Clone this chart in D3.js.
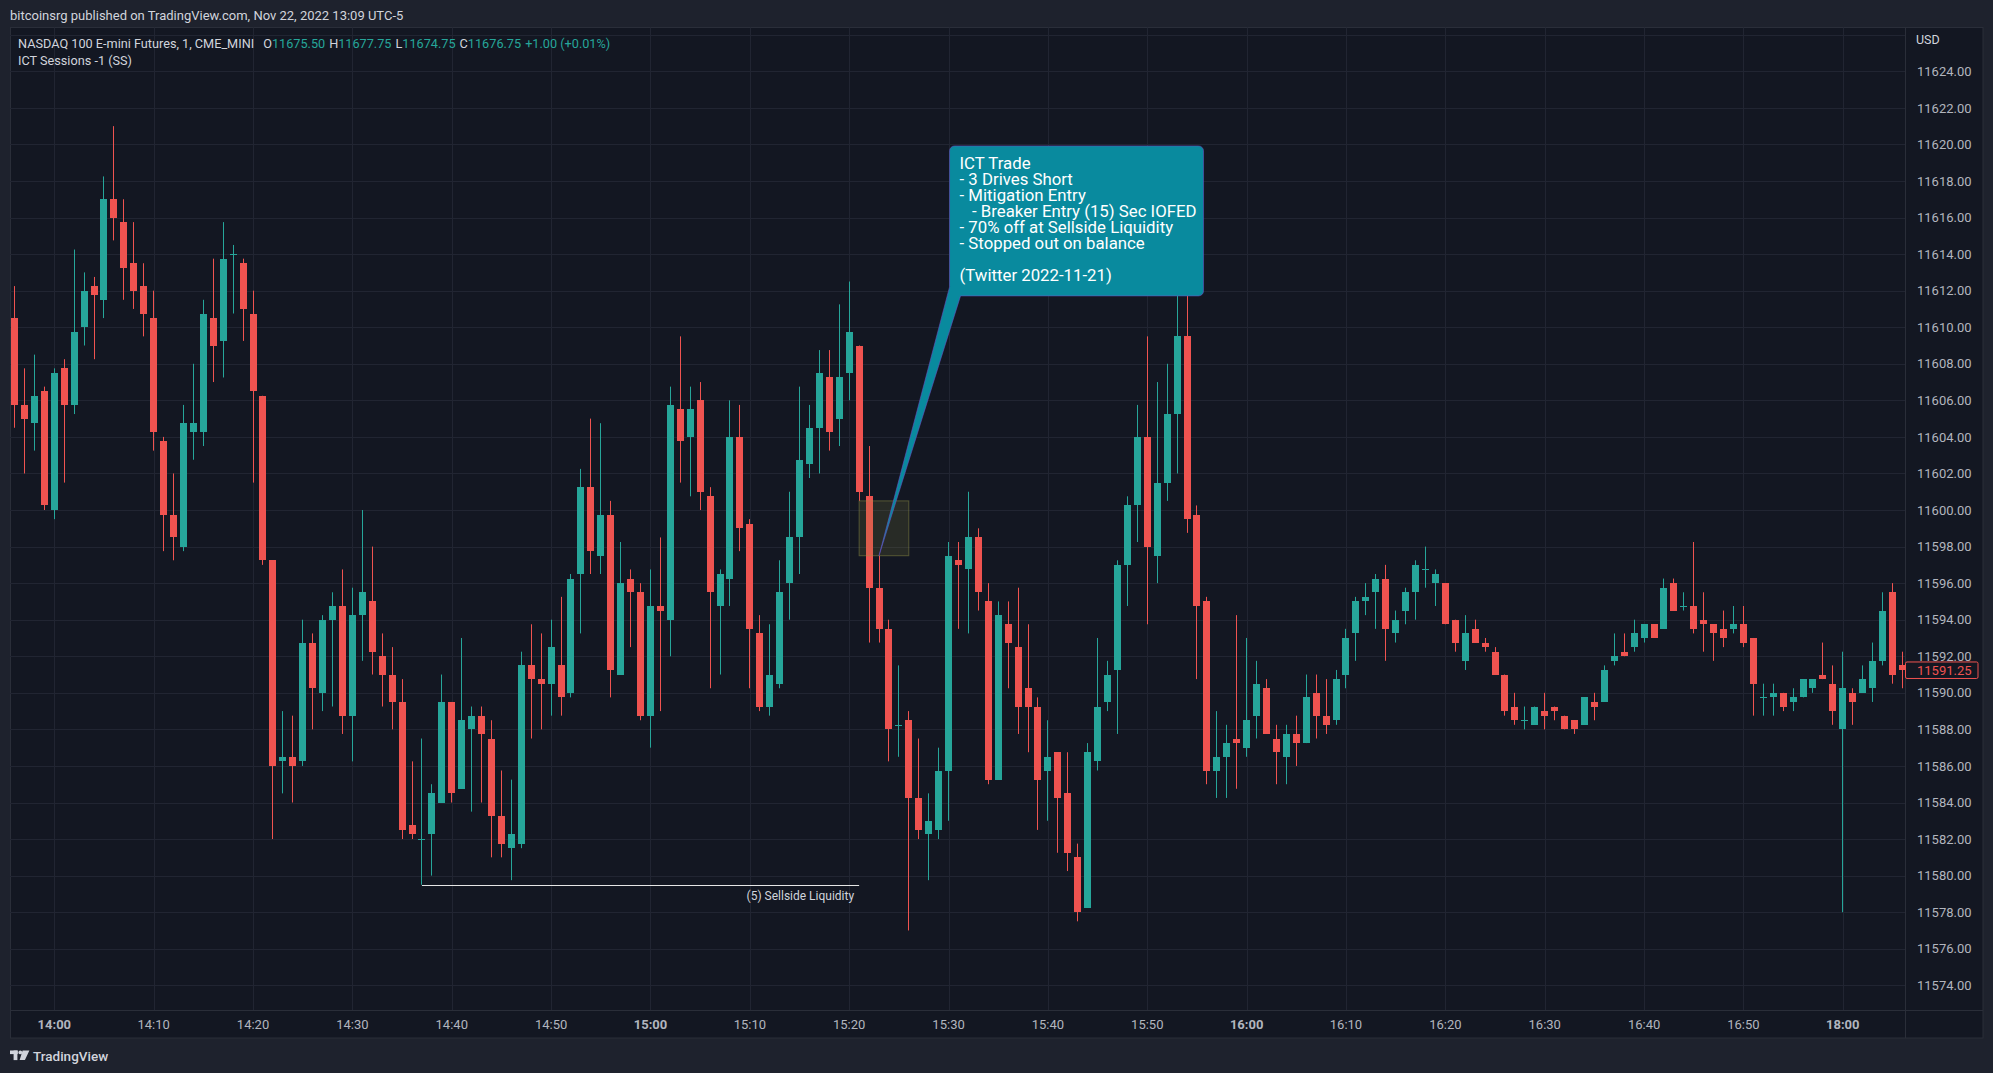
<!DOCTYPE html>
<html>
<head>
<meta charset="utf-8">
<script src="https://cdn.jsdelivr.net/npm/d3@7"></script>
<style>
  html, body { margin: 0; padding: 0; background: #1e222d; }
  svg { display: block; }
  text { font-family: Roboto, "Noto Sans", sans-serif; }
</style>
</head>
<body>
<script>
// 1 minute bars, CME session pauses 17:00 - 18:00
const sessionStarts = ["13:56", "18:00"];
const sessionBars = [184, 7];

const opens = [
  11610.5, 11605.75, 11604.75, 11606.5, 11600, 11607.75, 11605.75, 11610, 11612.25, 11611.5,
  11617, 11615.75, 11613.5, 11612.25, 11610.5, 11603.75, 11599.75, 11598, 11604.25, 11604.25,
  11610.5, 11609.25, 11614, 11613.5, 11610.75, 11606.25, 11597.25, 11586.25, 11586.5, 11586.25,
  11592.75, 11590, 11594, 11594.75, 11588.75, 11594.25, 11595, 11592, 11591, 11589.5,
  11582.75, 11582, 11582.25, 11584, 11589.5, 11584.75, 11588, 11588.75, 11587.5, 11583.25,
  11581.5, 11581.75, 11591.5, 11590.75, 11590.5, 11591.5, 11590, 11596.5, 11601.25, 11597.5,
  11599.75, 11591, 11596.25, 11595.5, 11588.75, 11594.75, 11594, 11605.5, 11604, 11606,
  11600.75, 11594.75, 11596.25, 11604, 11599.25, 11593.25, 11589.25, 11590.5, 11596, 11598.5,
  11602.5, 11604.5, 11607.25, 11605, 11607.5, 11609, 11600.75, 11595.75, 11593.5, 11588.25,
  11588.5, 11584.25, 11582.25, 11582.5, 11585.75, 11597.25, 11596.75, 11598.5, 11595, 11585.25,
  11593.75, 11592.5, 11590.25, 11589.25, 11585.75, 11586.75, 11584.5, 11581, 11578.25, 11586.25,
  11589.5, 11591.25, 11597, 11600.25, 11604, 11597.5, 11601.5, 11605.25, 11609.5, 11599.75,
  11595, 11585.75, 11586.5, 11587.5, 11587, 11588.75, 11590.25, 11587.5, 11586.5, 11587.75,
  11587.25, 11590, 11588.75, 11588.5, 11591, 11593.25, 11595, 11595.5, 11596.25, 11593.25,
  11594.5, 11595.5, 11596.75, 11596, 11596, 11594, 11591.75, 11593.5, 11592.75, 11592.25,
  11591, 11589.25, 11588.5, 11588.25, 11589, 11589.25, 11588.75, 11588.5, 11588.25, 11589.5,
  11589.5, 11591.75, 11592.25, 11592.5, 11593, 11593.75, 11593.5, 11596, 11594.75, 11594.75,
  11594, 11593.75, 11593.5, 11593.5, 11593.75, 11593, 11589.75, 11589.75, 11590, 11589.5,
  11589.75, 11590.25, 11591, 11590.5, 11588, 11590, 11590, 11590.25, 11591.75, 11595.5,
  11591.5
];
const highs = [
  11612.25, 11607.75, 11608.5, 11606.75, 11607.75, 11608.25, 11614.25, 11613, 11612.75, 11618.25,
  11621, 11617, 11615.75, 11613.5, 11612, 11604, 11602, 11605.75, 11608, 11611.5,
  11613.75, 11615.75, 11614.5, 11613.75, 11612, 11606.25, 11597.25, 11589, 11588.75, 11594,
  11593.25, 11594.25, 11595.5, 11596.75, 11595.75, 11600, 11598, 11593.25, 11592.5, 11590.75,
  11586.25, 11587.5, 11585, 11591, 11589.5, 11593, 11589.25, 11589.25, 11588.5, 11585.75,
  11585.25, 11592.25, 11593.75, 11593.25, 11594, 11595.25, 11596.5, 11602.25, 11605, 11604.75,
  11600.5, 11598.25, 11596.75, 11596, 11596.75, 11598.5, 11606.75, 11609.5, 11606.75, 11607,
  11601.25, 11596.75, 11606, 11605.75, 11599.5, 11594.25, 11593.75, 11597.25, 11601, 11606.75,
  11605.75, 11608.75, 11608.75, 11611.25, 11612.5, 11609, 11603.5, 11597.5, 11594, 11591.5,
  11589, 11587.5, 11584.5, 11587, 11598.25, 11598.25, 11601, 11599, 11596, 11595,
  11595, 11595.75, 11593.75, 11589.75, 11588.5, 11586.75, 11586.75, 11581.75, 11587.25, 11593,
  11591.75, 11597.25, 11600.75, 11605.75, 11609.5, 11607, 11608, 11611.75, 11612.25, 11600.25,
  11595.25, 11589, 11588.25, 11594.25, 11593, 11591.75, 11590.75, 11588.25, 11588.25, 11588.75,
  11591, 11591, 11590.75, 11591.25, 11593.5, 11595.25, 11596, 11596.5, 11597, 11594.5,
  11595.75, 11597.25, 11598, 11596.75, 11596, 11594, 11594.25, 11594, 11593, 11592.5,
  11591, 11590, 11589.25, 11589.25, 11590, 11589.25, 11588.75, 11588.5, 11589.75, 11590,
  11591.5, 11593.25, 11593.25, 11594, 11593.75, 11593.75, 11596.25, 11596.25, 11595.5, 11598.25,
  11595.5, 11593.75, 11594.5, 11594.75, 11594.75, 11593, 11590.5, 11590.5, 11590, 11590.25,
  11590.75, 11590.75, 11592.75, 11591.5, 11592.25, 11590.25, 11591.5, 11592.75, 11595.5, 11596,
  11592.25
];
const lows = [
  11604.5, 11602, 11603.25, 11600, 11599.5, 11601.5, 11605.25, 11609, 11608.25, 11610.5,
  11614.75, 11611.5, 11611, 11609.5, 11603.25, 11597.75, 11597.25, 11597.75, 11602.75, 11603.5,
  11607, 11607.25, 11610.75, 11609.25, 11601.5, 11597, 11582, 11584.5, 11584, 11586,
  11588, 11589, 11589.25, 11587.75, 11586.25, 11591.75, 11591, 11589.25, 11588, 11582,
  11582, 11579.5, 11580, 11584, 11584, 11584.75, 11583.5, 11584, 11581, 11581,
  11579.75, 11581.5, 11587.5, 11588, 11588.75, 11588.75, 11589.75, 11593.25, 11596.5, 11596.5,
  11589.75, 11591, 11592.5, 11588.5, 11587, 11589, 11592, 11601.5, 11600.75, 11600,
  11590.25, 11591, 11594.75, 11597.75, 11590.25, 11589, 11588.75, 11590.25, 11594, 11596.5,
  11601.75, 11602, 11603.25, 11603.5, 11606, 11600.5, 11592.75, 11592.75, 11586.25, 11586.5,
  11577, 11582, 11579.75, 11582, 11583, 11593.5, 11593.25, 11594.5, 11585, 11585.25,
  11590.25, 11587.75, 11586.75, 11582.5, 11583, 11581.25, 11580.25, 11577.5, 11578.25, 11585.75,
  11589, 11587.75, 11594.75, 11598.25, 11593.75, 11596, 11600.5, 11602, 11598.75, 11590.75,
  11585, 11584.25, 11584.25, 11584.75, 11586.5, 11587.5, 11587.75, 11585, 11585, 11586,
  11587.25, 11587.5, 11587.75, 11588.25, 11590.25, 11591.75, 11594.25, 11593.5, 11591.75, 11592.75,
  11593.75, 11594, 11595.75, 11594.75, 11593.75, 11592.25, 11591.25, 11592.75, 11592.25, 11591,
  11588.75, 11588.25, 11588, 11588.25, 11588, 11588.5, 11588, 11587.75, 11588.25, 11588.5,
  11589.5, 11591.5, 11592, 11592.25, 11592.75, 11593, 11593.5, 11594.5, 11594.5, 11593.25,
  11592.25, 11591.75, 11592.5, 11593.25, 11592.5, 11588.75, 11588.75, 11588.75, 11589, 11589,
  11589.75, 11590, 11590.75, 11588.25, 11578, 11588.25, 11590, 11589.5, 11591.5, 11590.5,
  11590.25
];
const closes = [
  11605.75, 11605, 11606.25, 11600.25, 11607.5, 11605.75, 11609.75, 11612, 11611.75, 11617,
  11616, 11613.25, 11612, 11610.75, 11604.25, 11599.75, 11598.5, 11604.75, 11604.75, 11610.75,
  11609, 11613.75, 11614, 11611, 11606.5, 11597.25, 11586, 11586.5, 11586, 11592.75,
  11590.25, 11594, 11594.75, 11588.75, 11594.25, 11595.5, 11592.25, 11591, 11589.5, 11582.5,
  11582.25, 11582, 11584.5, 11589.5, 11584.5, 11588.5, 11588.75, 11587.75, 11583.25, 11581.75,
  11582.25, 11591.5, 11590.75, 11590.5, 11592.5, 11589.75, 11596.25, 11601.25, 11597.75, 11599.75,
  11591.25, 11596, 11595.5, 11588.75, 11594.75, 11594.5, 11605.75, 11603.75, 11605.5, 11601,
  11595.5, 11596.5, 11604, 11599, 11593.5, 11589.25, 11591, 11595.5, 11598.5, 11602.75,
  11604.5, 11607.5, 11604.25, 11607.25, 11609.75, 11601, 11595.75, 11593.5, 11588, 11588.25,
  11584.25, 11582.5, 11583, 11585.75, 11597.5, 11597, 11598.5, 11595.5, 11585.25, 11594.25,
  11592.75, 11589.25, 11589.25, 11585.25, 11586.5, 11584.25, 11581.25, 11578, 11586.75, 11589.25,
  11591, 11597, 11600.25, 11604, 11598, 11601.5, 11605.25, 11609.5, 11599.5, 11594.75,
  11585.75, 11586.5, 11587.25, 11587.25, 11588.5, 11590.5, 11587.75, 11586.75, 11587.75, 11587.25,
  11589.75, 11588.75, 11588.25, 11590.75, 11593, 11595, 11595.25, 11596.25, 11593.5, 11594,
  11595.5, 11597, 11596.75, 11596.5, 11593.75, 11592.75, 11593.25, 11592.75, 11592.5, 11591,
  11589, 11588.5, 11588.5, 11589.25, 11588.75, 11589, 11588, 11588, 11589.75, 11589.25,
  11591.25, 11592, 11592, 11593.25, 11593.75, 11593, 11595.75, 11594.5, 11594.75, 11593.5,
  11593.75, 11593.25, 11593, 11593.75, 11592.75, 11590.5, 11589.75, 11590, 11589.25, 11589.75,
  11590.75, 11590.75, 11590.75, 11589, 11590.25, 11589.5, 11590.75, 11591.75, 11594.5, 11591,
  11591.25
];

const priceTicks = [11574, 11576, 11578, 11580, 11582, 11584, 11586, 11588, 11590, 11592, 11594, 11596, 11598,
  11600, 11602, 11604, 11606, 11608, 11610, 11612, 11614, 11616, 11618, 11620, 11622, 11624];
const timeTicks = ["14:00", "14:10", "14:20", "14:30", "14:40", "14:50", "15:00", "15:10", "15:20", "15:30",
  "15:40", "15:50", "16:00", "16:10", "16:20", "16:30", "16:40", "16:50", "18:00"];
const boldTicks = ["14:00", "15:00", "16:00", "18:00"];

const legendKeys = ["O", "H", "L", "C"];
const legendValues = ["11675.50", "11677.75", "11674.75", "11676.75"];
const legendChange = "+1.00 (+0.01%)";

const calloutLines = [
  "ICT Trade",
  "- 3 Drives Short",
  "- Mitigation Entry",
  "   - Breaker Entry (15) Sec IOFED",
  "- 70% off at Sellside Liquidity",
  "- Stopped out on balance",
  "",
  "(Twitter 2022-11-21)"
];
const callout = {time: "15:30", price: 11620, tipTime: "15:23", tipPrice: 11597.5};
const liquidity = {from: "14:37", to: "15:21", price: 11579.5, label: "(5) Sellside Liquidity"};
const zone = {from: "15:21", to: "15:26", top: 11600.5, bottom: 11597.5};

function buildTimes(starts, counts) {
  const out = [];
  starts.forEach((s, i) => {
    let [h, m] = s.split(":").map(Number);
    for (let k = 0; k < counts[i]; k++) {
      out.push(String(h).padStart(2, "0") + ":" + String(m).padStart(2, "0"));
      m++;
      if (m === 60) { m = 0; h++; }
    }
  });
  return out;
}

const times = buildTimes(sessionStarts, sessionBars);
const bars = times.map((t, i) => ({time: t, open: opens[i], high: highs[i], low: lows[i], close: closes[i]}));

showCandles(bars);

function showCandles(data) {
  const W = 1993, H = 1073;
  const frame = {left: 10, top: 27.5, right: 1983, bottom: 1038};
  const plotRight = 1905, plotBottom = 1010;
  const step = 9.936;
  const up = "#26a69a", down = "#ef5350";
  const gridColor = "#212532", borderColor = "#2a2e39", axisText = "#b2b5be", mainText = "#d1d4dc";

  const svg = d3.select("body").append("svg")
    .attr("width", W)
    .attr("height", H);

  svg.append("rect").attr("width", W).attr("height", H).attr("fill", "#1e222d");

  // publish line
  svg.append("text")
    .attr("x", 10).attr("y", 20)
    .attr("fill", mainText)
    .attr("font-size", 13)
    .text("bitcoinsrg published on TradingView.com, Nov 22, 2022 13:09 UTC-5");

  svg.append("rect")
    .attr("x", frame.left + 0.5).attr("y", frame.top)
    .attr("width", frame.right - frame.left - 0.5)
    .attr("height", frame.bottom - frame.top)
    .attr("fill", "#131722")
    .attr("stroke", borderColor);

  const x = d3.scaleBand()
    .domain(times)
    .range([frame.left - 0.4, frame.left - 0.4 + times.length * step]);
  const cx = t => x(t) + x.bandwidth() / 2;

  const y = d3.scaleLinear()
    .domain([11574, 11624])
    .range([985.3, 71.3]);

  const crisp = v => Math.round(v) + 0.5;

  // grid
  const grid = svg.append("g");
  grid.selectAll(".hgrid")
    .data(priceTicks.concat([11626]))
    .enter().append("line")
    .attr("x1", frame.left).attr("x2", plotRight)
    .attr("y1", d => crisp(y(d))).attr("y2", d => crisp(y(d)))
    .attr("stroke", gridColor);
  grid.selectAll(".vgrid")
    .data(timeTicks)
    .enter().append("line")
    .attr("x1", d => crisp(cx(d))).attr("x2", d => crisp(cx(d)))
    .attr("y1", frame.top).attr("y2", plotBottom)
    .attr("stroke", gridColor);

  svg.append("clipPath").attr("id", "plot")
    .append("rect")
    .attr("x", frame.left + 1).attr("y", frame.top)
    .attr("width", plotRight - frame.left - 1)
    .attr("height", plotBottom - frame.top);

  const plot = svg.append("g").attr("clip-path", "url(#plot)");

  // candles
  const candle = plot.selectAll(".candle")
    .data(data)
    .enter().append("g")
    .attr("fill", d => d.close >= d.open ? up : down)
    .attr("stroke", d => d.close >= d.open ? up : down);

  candle.append("line")
    .attr("x1", d => crisp(cx(d.time) - 0.5)).attr("x2", d => crisp(cx(d.time) - 0.5))
    .attr("y1", d => y(d.high)).attr("y2", d => y(d.low))
    .attr("stroke-width", 1);

  const bodyW = 7;
  candle.append("rect")
    .attr("x", d => Math.round(cx(d.time) - bodyW / 2))
    .attr("width", bodyW)
    .attr("y", d => y(Math.max(d.open, d.close)))
    .attr("height", d => Math.max(1, y(Math.min(d.open, d.close)) - y(Math.max(d.open, d.close))))
    .attr("stroke", "none")
    .attr("shape-rendering", "crispEdges");

  // sellside liquidity level
  const ly = crisp(y(liquidity.price));
  plot.append("line")
    .attr("x1", cx(liquidity.from)).attr("x2", cx(liquidity.to))
    .attr("y1", ly).attr("y2", ly)
    .attr("stroke", "#e6e6e6").attr("stroke-width", 1);
  plot.append("text")
    .attr("x", cx(liquidity.to) - 5).attr("y", ly + 14)
    .attr("text-anchor", "end")
    .attr("fill", mainText)
    .attr("font-size", 12)
    .text(liquidity.label);

  // breaker zone
  plot.append("rect")
    .attr("x", cx(zone.from)).attr("width", cx(zone.to) - cx(zone.from))
    .attr("y", y(zone.top)).attr("height", y(zone.bottom) - y(zone.top))
    .attr("fill", "rgba(140,140,60,0.18)")
    .attr("stroke", "rgba(150,150,70,0.45)");

  // callout: one text block, one tspan per line
  const cg = plot.append("g");
  const bx = cx(callout.time) + 1, by = y(callout.price) + 1.5;
  const lineH = 16;
  const txt = cg.append("text")
    .attr("x", bx + 10)
    .attr("y", by + 23)
    .attr("xml:space", "preserve")
    .style("white-space", "pre")
    .attr("fill", "#ffffff")
    .attr("font-size", 16.8);
  calloutLines.forEach((s, i) => {
    txt.append("tspan")
      .attr("x", bx + 10)
      .attr("dy", i === 0 ? 0 : lineH)
      .text(s === "" ? " " : s);
  });
  let maxLen = 0;
  txt.selectAll("tspan").each(function() { maxLen = Math.max(maxLen, this.getComputedTextLength()); });
  const bw = maxLen + 17, bh = 23 + (calloutLines.length - 1) * lineH + 15, r = 5;
  const tipX = cx(callout.tipTime), tipY = y(callout.tipPrice);
  const p = d3.path();
  p.moveTo(bx + r, by);
  p.lineTo(bx + bw - r, by);
  p.arcTo(bx + bw, by, bx + bw, by + r, r);
  p.lineTo(bx + bw, by + bh - r);
  p.arcTo(bx + bw, by + bh, bx + bw - r, by + bh, r);
  p.lineTo(bx + 11, by + bh);
  p.lineTo(tipX, tipY);
  p.lineTo(bx, by + bh - 9);
  p.lineTo(bx, by + r);
  p.arcTo(bx, by, bx + r, by, r);
  p.closePath();
  cg.insert("path", ":first-child")
    .attr("d", p.toString())
    .attr("fill", "#098a9e")
    .attr("stroke", "rgba(110,80,200,0.55)")
    .attr("stroke-width", 1);

  // axes frame lines
  svg.append("line")
    .attr("x1", plotRight + 0.5).attr("x2", plotRight + 0.5)
    .attr("y1", frame.top).attr("y2", frame.bottom)
    .attr("stroke", borderColor);
  svg.append("line")
    .attr("x1", frame.left).attr("x2", frame.right)
    .attr("y1", plotBottom + 0.5).attr("y2", plotBottom + 0.5)
    .attr("stroke", borderColor);

  // price axis
  const yAxis = d3.axisRight(y)
    .tickValues(priceTicks)
    .tickSize(0)
    .tickPadding(12)
    .tickFormat(d3.format(".2f"));
  const ya = svg.append("g")
    .attr("transform", `translate(${plotRight}, 0)`)
    .call(yAxis);
  ya.select(".domain").remove();
  ya.selectAll("text")
    .attr("fill", axisText)
    .attr("font-size", 13)
    .attr("font-family", "Roboto, sans-serif");

  svg.append("text")
    .attr("x", plotRight + 11).attr("y", 44)
    .attr("fill", mainText)
    .attr("font-size", 12.5)
    .text("USD");

  // last price label
  const last = data[data.length - 1];
  const lastY = y(last.close);
  const lastColor = last.close >= last.open ? up : down;
  svg.append("rect")
    .attr("x", plotRight + 0.5).attr("y", lastY - 8)
    .attr("width", 72.5).attr("height", 16.5)
    .attr("rx", 1.5)
    .attr("fill", "#131722")
    .attr("stroke", lastColor);
  svg.append("text")
    .attr("x", plotRight + 12).attr("y", lastY + 4.6)
    .attr("fill", lastColor)
    .attr("font-size", 13)
    .text(d3.format(".2f")(last.close));

  // time axis
  const xAxis = d3.axisBottom(x)
    .tickValues(timeTicks)
    .tickSize(0)
    .tickPadding(9.7);
  const xa = svg.append("g")
    .attr("transform", `translate(0, ${plotBottom})`)
    .call(xAxis);
  xa.select(".domain").remove();
  xa.selectAll("text")
    .attr("fill", axisText)
    .attr("font-size", 13)
    .attr("font-family", "Roboto, sans-serif")
    .attr("font-weight", d => boldTicks.includes(d) ? "bold" : "normal");

  // legend
  const legend = svg.append("text")
    .attr("x", 18).attr("y", 47.5)
    .attr("font-size", 12.7)
    .attr("fill", mainText);
  legend.append("tspan").text("NASDAQ 100 E-mini Futures, 1, CME_MINI");
  legendKeys.forEach((k, i) => {
    legend.append("tspan").attr("dx", i === 0 ? 9 : 4).attr("fill", mainText).text(k);
    legend.append("tspan").attr("fill", up).text(legendValues[i]);
  });
  legend.append("tspan").attr("dx", 4).attr("fill", up).text(legendChange);

  svg.append("text")
    .attr("x", 18).attr("y", 64.5)
    .attr("font-size", 12.7)
    .attr("fill", mainText)
    .text("ICT Sessions -1 (SS)");

  // TradingView mark
  const logo = svg.append("g").attr("fill", "#d1d4dc");
  logo.append("rect").attr("x", 10).attr("y", 1050.5).attr("width", 7.8).attr("height", 3.6);
  logo.append("rect").attr("x", 13.6).attr("y", 1050.5).attr("width", 3.8).attr("height", 9.6);
  logo.append("circle").attr("cx", 20.3).attr("cy", 1052.4).attr("r", 1.9);
  logo.append("path").attr("d", "M22.6,1050.5 L29.4,1050.5 L24.9,1060.1 L19.6,1060.1 Z");
  logo.append("text")
    .attr("x", 33).attr("y", 1061)
    .attr("font-size", 13.5)
    .attr("font-weight", 500)
    .text("TradingView");
}
</script>
</body>
</html>
